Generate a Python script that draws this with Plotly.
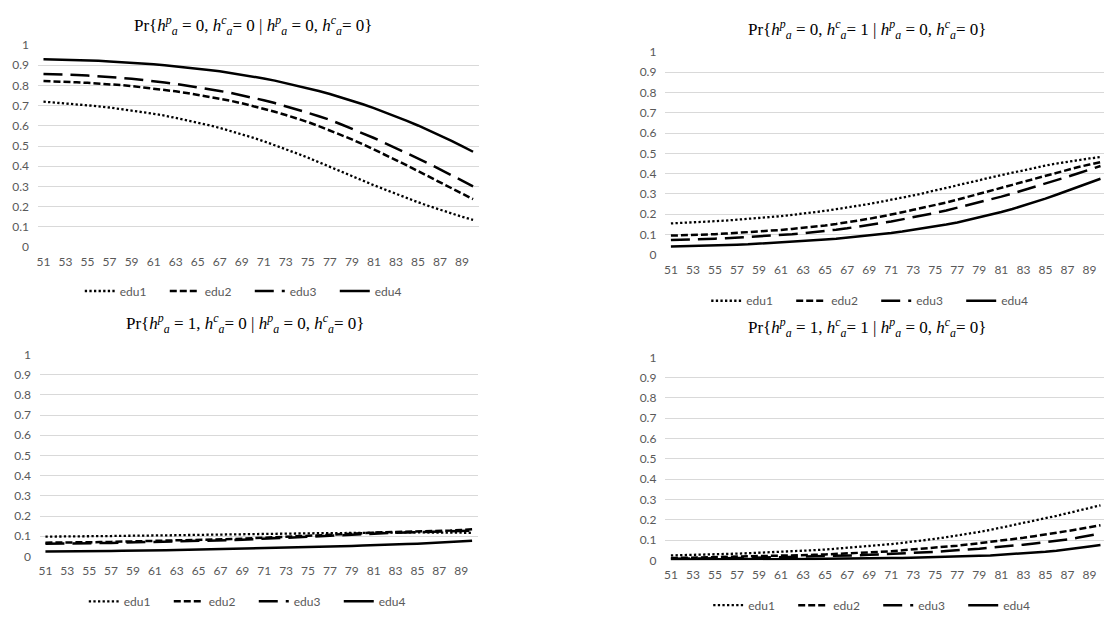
import plotly.graph_objects as go

# ---------------- data ----------------
ages = list(range(51, 91))
x_tick_values = list(range(51, 90, 2))
x_tick_labels = [str(a) for a in x_tick_values]
y_tick_values = [0, 0.1, 0.2, 0.3, 0.4, 0.5, 0.6, 0.7, 0.8, 0.9, 1]
y_tick_labels = ["0", "0.1", "0.2", "0.3", "0.4", "0.5", "0.6", "0.7", "0.8", "0.9", "1"]
series_names = ["edu1", "edu2", "edu3", "edu4"]

titles = [
    "Pr{<i>h</i><sup><i>p</i></sup><sub><i>a</i></sub> = 0, <i>h</i><sup><i>c</i></sup><sub><i>a</i></sub>= 0 | <i>h</i><sup><i>p</i></sup><sub><i>a</i></sub> = 0, <i>h</i><sup><i>c</i></sup><sub><i>a</i></sub>= 0}",
    "Pr{<i>h</i><sup><i>p</i></sup><sub><i>a</i></sub> = 0, <i>h</i><sup><i>c</i></sup><sub><i>a</i></sub>= 1 | <i>h</i><sup><i>p</i></sup><sub><i>a</i></sub> = 0, <i>h</i><sup><i>c</i></sup><sub><i>a</i></sub>= 0}",
    "Pr{<i>h</i><sup><i>p</i></sup><sub><i>a</i></sub> = 1, <i>h</i><sup><i>c</i></sup><sub><i>a</i></sub>= 0 | <i>h</i><sup><i>p</i></sup><sub><i>a</i></sub> = 0, <i>h</i><sup><i>c</i></sup><sub><i>a</i></sub>= 0}",
    "Pr{<i>h</i><sup><i>p</i></sup><sub><i>a</i></sub> = 1, <i>h</i><sup><i>c</i></sup><sub><i>a</i></sub>= 1 | <i>h</i><sup><i>p</i></sup><sub><i>a</i></sub> = 0, <i>h</i><sup><i>c</i></sup><sub><i>a</i></sub>= 0}",
]

# Panel 1: Pr{h^p=0, h^c=0 | 0,0}
p1_edu1 = [0.720, 0.716, 0.712, 0.707, 0.702, 0.697, 0.691, 0.684, 0.677, 0.669,
           0.660, 0.651, 0.640, 0.629, 0.617, 0.604, 0.590, 0.575, 0.559, 0.542,
           0.524, 0.505, 0.485, 0.464, 0.443, 0.421, 0.398, 0.375, 0.352, 0.329,
           0.306, 0.284, 0.262, 0.241, 0.222, 0.203, 0.185, 0.167, 0.150, 0.135]
p1_edu2 = [0.822, 0.821, 0.819, 0.816, 0.813, 0.810, 0.806, 0.802, 0.797, 0.791,
           0.785, 0.778, 0.771, 0.763, 0.754, 0.745, 0.735, 0.724, 0.712, 0.699,
           0.685, 0.670, 0.654, 0.637, 0.619, 0.599, 0.578, 0.556, 0.533, 0.509,
           0.484, 0.458, 0.431, 0.404, 0.377, 0.349, 0.321, 0.293, 0.265, 0.237]
p1_edu3 = [0.857, 0.856, 0.854, 0.852, 0.849, 0.846, 0.842, 0.838, 0.833, 0.828,
           0.822, 0.815, 0.808, 0.800, 0.792, 0.783, 0.773, 0.763, 0.752, 0.740,
           0.727, 0.713, 0.698, 0.682, 0.665, 0.648, 0.630, 0.608, 0.586, 0.563,
           0.540, 0.515, 0.490, 0.465, 0.440, 0.413, 0.385, 0.357, 0.329, 0.301]
p1_edu4 = [0.930, 0.929, 0.928, 0.926, 0.924, 0.922, 0.919, 0.916, 0.912, 0.909,
           0.905, 0.900, 0.895, 0.889, 0.883, 0.877, 0.870, 0.862, 0.854, 0.845,
           0.835, 0.824, 0.812, 0.800, 0.787, 0.773, 0.758, 0.742, 0.725, 0.707,
           0.688, 0.668, 0.647, 0.625, 0.602, 0.578, 0.553, 0.527, 0.500, 0.472]

# Panel 2: Pr{h^p=0, h^c=1 | 0,0}
p2_edu1 = [0.155, 0.157, 0.160, 0.163, 0.166, 0.169, 0.173, 0.177, 0.181, 0.186,
           0.191, 0.197, 0.203, 0.210, 0.217, 0.225, 0.233, 0.242, 0.251, 0.261,
           0.271, 0.282, 0.293, 0.305, 0.317, 0.329, 0.342, 0.355, 0.368, 0.381,
           0.393, 0.406, 0.418, 0.429, 0.440, 0.450, 0.459, 0.467, 0.475, 0.482]
p2_edu2 = [0.095, 0.096, 0.098, 0.100, 0.102, 0.105, 0.108, 0.111, 0.115, 0.119,
           0.123, 0.128, 0.133, 0.139, 0.145, 0.152, 0.160, 0.169, 0.178, 0.188,
           0.198, 0.210, 0.222, 0.233, 0.245, 0.258, 0.272, 0.286, 0.300, 0.315,
           0.330, 0.345, 0.360, 0.375, 0.390, 0.405, 0.420, 0.433, 0.445, 0.457]
p2_edu3 = [0.073, 0.074, 0.076, 0.078, 0.080, 0.082, 0.085, 0.088, 0.091, 0.094,
           0.098, 0.102, 0.107, 0.112, 0.118, 0.124, 0.131, 0.139, 0.147, 0.156,
           0.165, 0.175, 0.185, 0.196, 0.207, 0.219, 0.232, 0.245, 0.258, 0.272,
           0.287, 0.302, 0.318, 0.334, 0.350, 0.367, 0.385, 0.402, 0.420, 0.438]
p2_edu4 = [0.041, 0.042, 0.043, 0.044, 0.046, 0.048, 0.050, 0.052, 0.055, 0.058,
           0.061, 0.064, 0.068, 0.072, 0.076, 0.080, 0.085, 0.090, 0.095, 0.101,
           0.108, 0.115, 0.123, 0.131, 0.140, 0.150, 0.160, 0.172, 0.184, 0.197,
           0.211, 0.226, 0.242, 0.259, 0.277, 0.296, 0.315, 0.335, 0.355, 0.375]

# Panel 3: Pr{h^p=1, h^c=0 | 0,0}
p3_edu1 = [0.098, 0.098, 0.099, 0.099, 0.100, 0.100, 0.101, 0.102, 0.102, 0.103,
           0.104, 0.104, 0.105, 0.106, 0.107, 0.107, 0.108, 0.109, 0.110, 0.110,
           0.111, 0.112, 0.113, 0.113, 0.114, 0.115, 0.115, 0.116, 0.117, 0.117,
           0.118, 0.118, 0.119, 0.119, 0.119, 0.119, 0.119, 0.118, 0.118, 0.117]
p3_edu2 = [0.068, 0.068, 0.069, 0.069, 0.070, 0.071, 0.072, 0.073, 0.074, 0.075,
           0.076, 0.077, 0.078, 0.080, 0.081, 0.083, 0.084, 0.086, 0.088, 0.090,
           0.092, 0.094, 0.096, 0.099, 0.101, 0.104, 0.107, 0.110, 0.113, 0.116,
           0.118, 0.120, 0.121, 0.122, 0.123, 0.124, 0.126, 0.128, 0.131, 0.134]
p3_edu3 = [0.063, 0.063, 0.064, 0.064, 0.065, 0.066, 0.067, 0.068, 0.069, 0.070,
           0.071, 0.072, 0.073, 0.075, 0.076, 0.078, 0.079, 0.081, 0.083, 0.085,
           0.087, 0.089, 0.091, 0.094, 0.096, 0.099, 0.102, 0.105, 0.108, 0.111,
           0.113, 0.115, 0.117, 0.119, 0.121, 0.122, 0.124, 0.125, 0.127, 0.128]
p3_edu4 = [0.024, 0.024, 0.025, 0.025, 0.026, 0.026, 0.027, 0.028, 0.028, 0.029,
           0.030, 0.031, 0.032, 0.033, 0.034, 0.035, 0.036, 0.037, 0.038, 0.039,
           0.040, 0.042, 0.043, 0.044, 0.046, 0.047, 0.049, 0.050, 0.052, 0.054,
           0.055, 0.057, 0.059, 0.061, 0.063, 0.066, 0.068, 0.071, 0.074, 0.078]

# Panel 4: Pr{h^p=1, h^c=1 | 0,0}
p4_edu1 = [0.024, 0.025, 0.027, 0.028, 0.030, 0.031, 0.033, 0.035, 0.037, 0.039,
           0.042, 0.044, 0.047, 0.050, 0.053, 0.057, 0.061, 0.065, 0.069, 0.074,
           0.080, 0.086, 0.092, 0.099, 0.106, 0.114, 0.122, 0.131, 0.140, 0.150,
           0.161, 0.172, 0.183, 0.195, 0.207, 0.219, 0.232, 0.245, 0.258, 0.271]
p4_edu2 = [0.011, 0.012, 0.013, 0.014, 0.015, 0.016, 0.017, 0.018, 0.019, 0.020,
           0.022, 0.023, 0.025, 0.027, 0.029, 0.031, 0.033, 0.036, 0.039, 0.042,
           0.045, 0.049, 0.053, 0.057, 0.062, 0.067, 0.072, 0.078, 0.084, 0.090,
           0.097, 0.104, 0.111, 0.119, 0.127, 0.135, 0.144, 0.153, 0.163, 0.173]
p4_edu3 = [0.008, 0.008, 0.009, 0.009, 0.010, 0.011, 0.011, 0.012, 0.013, 0.014,
           0.015, 0.016, 0.017, 0.018, 0.020, 0.021, 0.023, 0.025, 0.027, 0.029,
           0.031, 0.034, 0.036, 0.039, 0.042, 0.046, 0.049, 0.053, 0.057, 0.062,
           0.066, 0.071, 0.077, 0.083, 0.089, 0.096, 0.103, 0.112, 0.122, 0.132]
p4_edu4 = [0.004, 0.004, 0.004, 0.005, 0.005, 0.005, 0.005, 0.006, 0.006, 0.006,
           0.006, 0.007, 0.007, 0.007, 0.008, 0.008, 0.008, 0.009, 0.009, 0.010,
           0.011, 0.012, 0.013, 0.014, 0.015, 0.017, 0.018, 0.020, 0.022, 0.024,
           0.027, 0.030, 0.033, 0.037, 0.042, 0.047, 0.053, 0.060, 0.068, 0.076]

panels = [
    [p1_edu1, p1_edu2, p1_edu3, p1_edu4],
    [p2_edu1, p2_edu2, p2_edu3, p2_edu4],
    [p3_edu1, p3_edu2, p3_edu3, p3_edu4],
    [p4_edu1, p4_edu2, p4_edu3, p4_edu4],
]

# ---------------- styling ----------------
W, H = 1104, 621
dashes = ["2.3px,2.3px", "7px,3px", "19px,8px", "solid"]
widths = [2.3, 2.5, 2.5, 2.5]
GRID = "#d9d9d9"
TXT = "#595959"
TICKFONT = dict(family="Lato, Open Sans, sans-serif", size=12, color=TXT)


def px(v):
    return v / W


def py(v):
    return (H - v) / H


# plot areas in page pixels: (left, right, top(y=1), bottom(y=0))
areas = [(37, 478, 38, 245), (665, 1104, 45, 253), (39, 477, 355, 562), (665, 1104, 358, 566)]
# right-hand panels are cut by the picture edge: category range trimmed accordingly
xranges = [[50.5, 90.5], [50.5, 50.5 + 439 / 11.025], [50.5, 90.5], [50.5, 50.5 + 439 / 11.025]]
legend_pos = [(249, 290), (876, 300), (253, 608), (878, 612)]
title_pos = [(253, 18), (867, 22), (245, 323), (867, 327)]

fig = go.Figure()
layout = dict(width=W, height=H, margin=dict(l=0, r=0, t=0, b=0),
              paper_bgcolor="white", plot_bgcolor="white", annotations=[])

for i, series in enumerate(panels):
    k = "" if i == 0 else str(i + 1)
    lg = "legend" + k
    for j, vals in enumerate(series):
        fig.add_trace(go.Scatter(
            x=ages, y=vals, mode="lines", name=series_names[j],
            line=dict(color="black", width=widths[j], dash=dashes[j]),
            xaxis="x" + k, yaxis="y" + k, legend=lg, showlegend=True,
            hoverinfo="skip", cliponaxis=False))
    l, r, t, b = areas[i]
    layout["xaxis" + k] = dict(
        domain=[px(l), px(r)], anchor="y" + k, range=xranges[i],
        tickmode="array", tickvals=x_tick_values, ticktext=x_tick_labels,
        showgrid=False, zeroline=False, showline=False, ticks="",
        tickfont=TICKFONT, ticklabelstandoff=6, fixedrange=True)
    layout["yaxis" + k] = dict(
        domain=[py(b), py(t)], anchor="x" + k, range=[0, 1],
        tickmode="array", tickvals=y_tick_values, ticktext=y_tick_labels,
        showgrid=True, gridcolor=GRID, gridwidth=1, zeroline=False,
        showline=False, ticks="", tickfont=TICKFONT, ticklabelstandoff=8,
        fixedrange=True)
    lx, ly = legend_pos[i]
    layout[lg] = dict(
        orientation="h", x=px(lx), y=py(ly), xanchor="center",
        yanchor="middle", xref="paper", yref="paper",
        font=dict(family="Lato, Open Sans, sans-serif", size=12, color=TXT),
        bgcolor="rgba(0,0,0,0)", itemwidth=30, entrywidth=40,
        entrywidthmode="pixels", itemclick=False, itemdoubleclick=False)
    tx, ty = title_pos[i]
    layout["annotations"].append(dict(
        text=titles[i], x=px(tx), y=py(ty), xref="paper", yref="paper",
        xanchor="center", yanchor="middle", showarrow=False,
        font=dict(family="Liberation Serif, DejaVu Serif, serif", size=17,
                  color="black")))

fig.update_layout(**layout)
fig.write_html(
    "out.html",
    config={"displayModeBar": False, "staticPlot": True},
    post_script="document.body.style.margin='0';document.body.style.overflow='hidden';",
)
